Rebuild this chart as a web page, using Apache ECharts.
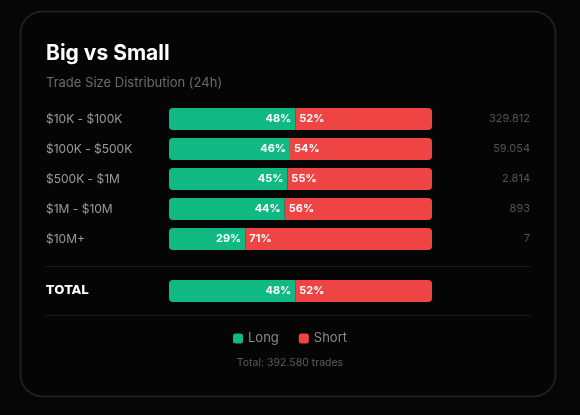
<!DOCTYPE html>
<html>
<head>
<meta charset="utf-8">
<script src="https://cdn.jsdelivr.net/npm/echarts@6/dist/echarts.min.js"></script>
<style>
html,body{margin:0;padding:0;background:#060606;}
#c{width:580px;height:415px;}
</style>
</head>
<body>
<div id="c"></div>
<script>
const categories = ['$10K - $100K', '$100K - $500K', '$500K - $1M', '$1M - $10M', '$10M+'];
const longPct = [48, 46, 45, 44, 29];
const shortPct = [52, 54, 55, 56, 71];
const tradeCounts = ['329.812', '59.054', '2.814', '893', '7'];
const totalLabel = ['TOTAL'];
const totalLong = [48];
const totalShort = [52];
const totalTrades = '392.580';

const FONT = 'Inter, "Noto Sans", sans-serif';
const GREEN = '#10b981';
const RED = '#ef4444';

const chart = echarts.init(document.getElementById('c'), null, {renderer: 'canvas'});

const revCats = categories.slice().reverse();
const revLong = longPct.slice().reverse();
const revShort = shortPct.slice().reverse();
const revCounts = tradeCounts.slice().reverse();

function barLabel(pos) {
  return {
    show: true,
    position: pos,
    distance: 4,
    formatter: '{c}%',
    color: '#fff',
    fontFamily: FONT,
    fontWeight: 'bold',
    fontSize: 11
  };
}

chart.setOption({
  backgroundColor: '#060606',
  animation: false,
  title: [
    {text: 'Big vs Small', left: 46, top: 43, padding: 0,
     textStyle: {color: '#fff', fontFamily: FONT, fontWeight: 'bold', fontSize: 21}},
    {text: 'Trade Size Distribution (24h)', left: 46, top: 77, padding: 0,
     textStyle: {color: '#6b6b6b', fontFamily: FONT, fontWeight: 'normal', fontSize: 13}},
    {text: 'Total: ' + totalTrades + ' trades', left: 'center', top: 357, padding: 0,
     textStyle: {color: '#5c5c5c', fontFamily: FONT, fontWeight: 'normal', fontSize: 10.5}}
  ],
  legend: {
    data: ['Long', 'Short'],
    left: 'center', top: 327,
    itemWidth: 10, itemHeight: 10, itemGap: 20,
    icon: 'roundRect',
    textStyle: {color: '#8a8a8a', fontFamily: FONT, fontSize: 13}
  },
  graphic: [
    {type: 'rect', z: -10, shape: {x: 20.5, y: 11.5, width: 535, height: 385, r: 22},
     style: {fill: '#050505', stroke: '#1f1f1f', lineWidth: 2}},
    {type: 'line', z: -5, shape: {x1: 46, y1: 266.5, x2: 530, y2: 266.5}, style: {stroke: '#1c1c1c', lineWidth: 1}},
    {type: 'line', z: -5, shape: {x1: 46, y1: 315.5, x2: 530, y2: 315.5}, style: {stroke: '#1c1c1c', lineWidth: 1}}
  ],
  grid: [
    {left: 169, width: 263, top: 104, height: 150},
    {left: 169, width: 263, top: 276, height: 30}
  ],
  xAxis: [
    {gridIndex: 0, type: 'value', min: 0, max: 100, show: false},
    {gridIndex: 1, type: 'value', min: 0, max: 100, show: false}
  ],
  yAxis: [
    {gridIndex: 0, type: 'category', data: revCats,
     axisLine: {show: false}, axisTick: {show: false},
     axisLabel: {align: 'left', margin: 123, color: '#9a9a9a', fontFamily: FONT, fontSize: 12}},
    {gridIndex: 0, type: 'category', data: revCounts, position: 'right',
     axisLine: {show: false}, axisTick: {show: false},
     axisLabel: {align: 'right', margin: 98, color: '#555', fontFamily: FONT, fontSize: 11}},
    {gridIndex: 1, type: 'category', data: totalLabel,
     axisLine: {show: false}, axisTick: {show: false},
     axisLabel: {align: 'left', margin: 123, color: '#fff', fontFamily: '"DejaVu Sans", sans-serif', fontWeight: 'bold', fontSize: 12, padding: [3, 0, 0, 0]}}
  ],
  series: [
    {name: 'Long', type: 'bar', stack: 'a', xAxisIndex: 0, yAxisIndex: 0, data: revLong,
     barWidth: 22, itemStyle: {color: GREEN, borderRadius: [4, 0, 0, 4]}, label: barLabel('insideRight')},
    {name: 'Short', type: 'bar', stack: 'a', xAxisIndex: 0, yAxisIndex: 0, data: revShort,
     barWidth: 22, itemStyle: {color: RED, borderRadius: [0, 4, 4, 0]}, label: barLabel('insideLeft')},
    {name: 'Long', type: 'bar', stack: 'b', xAxisIndex: 1, yAxisIndex: 2, data: totalLong,
     barWidth: 22, itemStyle: {color: GREEN, borderRadius: [4, 0, 0, 4]}, label: barLabel('insideRight')},
    {name: 'Short', type: 'bar', stack: 'b', xAxisIndex: 1, yAxisIndex: 2, data: totalShort,
     barWidth: 22, itemStyle: {color: RED, borderRadius: [0, 4, 4, 0]}, label: barLabel('insideLeft')}
  ]
});
</script>
</body>
</html>
